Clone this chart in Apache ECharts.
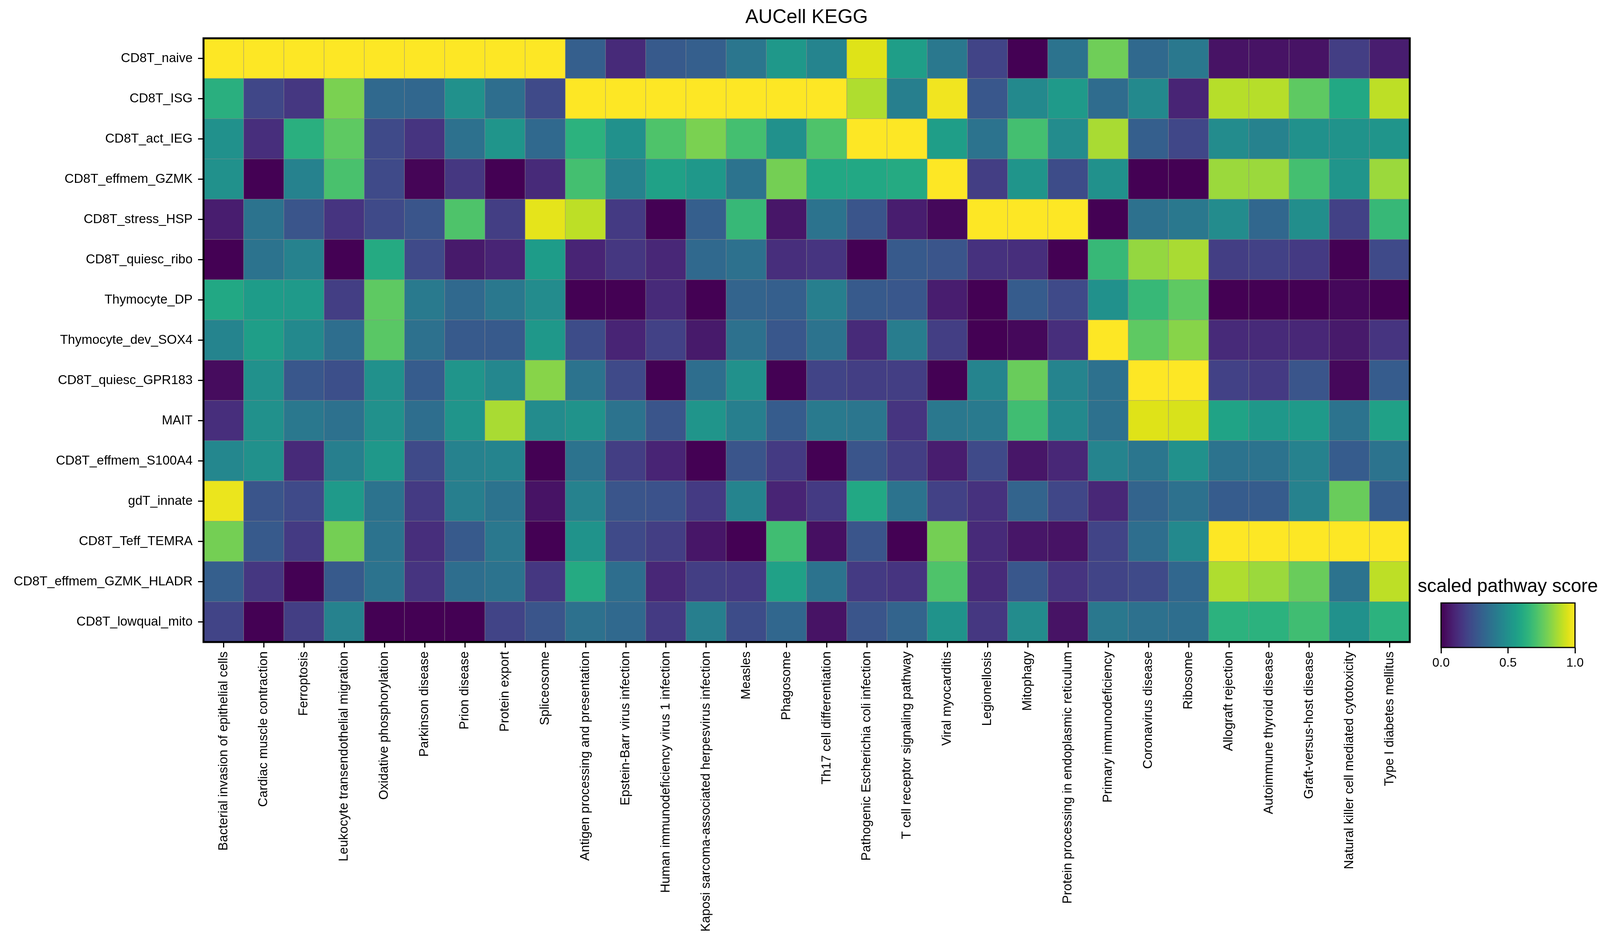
<!DOCTYPE html>
<html>
<head>
<meta charset="utf-8">
<script src="https://cdn.jsdelivr.net/npm/echarts@6/dist/echarts.min.js"></script>
<style>
html,body{margin:0;padding:0;background:#fff;}
#chart{width:4124px;height:2426px;}
</style>
</head>
<body>
<div id="chart"></div>
<script>
// ---------- DATA ----------
const pathways = [
  "Bacterial invasion of epithelial cells","Cardiac muscle contraction","Ferroptosis",
  "Leukocyte transendothelial migration","Oxidative phosphorylation","Parkinson disease",
  "Prion disease","Protein export","Spliceosome","Antigen processing and presentation",
  "Epstein-Barr virus infection","Human immunodeficiency virus 1 infection",
  "Kaposi sarcoma-associated herpesvirus infection","Measles","Phagosome",
  "Th17 cell differentiation","Pathogenic Escherichia coli infection",
  "T cell receptor signaling pathway","Viral myocarditis","Legionellosis","Mitophagy",
  "Protein processing in endoplasmic reticulum","Primary immunodeficiency",
  "Coronavirus disease","Ribosome","Allograft rejection","Autoimmune thyroid disease",
  "Graft-versus-host disease","Natural killer cell mediated cytotoxicity","Type I diabetes mellitus"
];
const cellTypes = [
  "CD8T_naive","CD8T_ISG","CD8T_act_IEG","CD8T_effmem_GZMK","CD8T_stress_HSP",
  "CD8T_quiesc_ribo","Thymocyte_DP","Thymocyte_dev_SOX4","CD8T_quiesc_GPR183","MAIT",
  "CD8T_effmem_S100A4","gdT_innate","CD8T_Teff_TEMRA","CD8T_effmem_GZMK_HLADR","CD8T_lowqual_mito"
];
const CD8T_naive = [1,1,1,1,1,1,1,1,1,0.30,0.12,0.28,0.30,0.39,0.53,0.45,0.95,0.56,0.40,0.20,0.0,0.38,0.78,0.34,0.40,0.05,0.05,0.05,0.18,0.08];
const CD8T_ISG = [0.63,0.21,0.16,0.80,0.34,0.33,0.50,0.36,0.22,1,1,1,1,1,1,1,0.88,0.43,0.98,0.27,0.47,0.54,0.35,0.47,0.10,0.89,0.89,0.75,0.60,0.90];
const CD8T_act_IEG = [0.50,0.13,0.63,0.75,0.22,0.15,0.37,0.52,0.34,0.64,0.50,0.72,0.80,0.70,0.50,0.72,1,1,0.56,0.38,0.70,0.48,0.87,0.30,0.21,0.48,0.44,0.50,0.51,0.52];
const CD8T_effmem_GZMK = [0.50,0.0,0.44,0.71,0.22,0.01,0.16,0.0,0.12,0.70,0.44,0.57,0.53,0.38,0.79,0.60,0.60,0.61,1,0.18,0.52,0.23,0.50,0.0,0.0,0.85,0.85,0.70,0.52,0.85];
const CD8T_stress_HSP = [0.08,0.38,0.26,0.15,0.22,0.26,0.72,0.18,0.96,0.90,0.17,0.0,0.30,0.67,0.06,0.38,0.26,0.08,0.02,1,1,1,0.0,0.37,0.40,0.48,0.33,0.49,0.19,0.67];
const CD8T_quiesc_ribo = [0.0,0.38,0.44,0.0,0.61,0.22,0.07,0.10,0.55,0.10,0.16,0.11,0.34,0.37,0.13,0.15,0.0,0.28,0.26,0.14,0.13,0.0,0.67,0.84,0.87,0.18,0.19,0.17,0.0,0.22];
const Thymocyte_DP = [0.60,0.55,0.54,0.18,0.75,0.41,0.34,0.40,0.48,0.0,0.0,0.12,0.0,0.32,0.30,0.43,0.28,0.27,0.08,0.0,0.29,0.22,0.50,0.67,0.75,0.0,0.0,0.0,0.02,0.0];
const Thymocyte_dev_SOX4 = [0.45,0.56,0.47,0.36,0.74,0.37,0.28,0.28,0.53,0.23,0.10,0.19,0.07,0.37,0.27,0.38,0.12,0.42,0.18,0.0,0.02,0.13,1,0.75,0.82,0.12,0.12,0.11,0.07,0.15];
const CD8T_quiesc_GPR183 = [0.03,0.50,0.27,0.24,0.50,0.29,0.52,0.46,0.82,0.38,0.22,0.0,0.36,0.50,0.0,0.20,0.18,0.18,0.0,0.45,0.77,0.45,0.37,1,1,0.19,0.17,0.26,0.02,0.29];
const MAIT = [0.13,0.50,0.40,0.37,0.50,0.36,0.52,0.87,0.48,0.51,0.38,0.26,0.52,0.43,0.29,0.41,0.39,0.15,0.40,0.41,0.69,0.47,0.37,0.95,0.94,0.58,0.53,0.54,0.38,0.57];
const CD8T_effmem_S100A4 = [0.46,0.50,0.12,0.43,0.53,0.22,0.44,0.45,0.0,0.38,0.18,0.10,0.0,0.26,0.17,0.0,0.26,0.18,0.08,0.22,0.06,0.11,0.45,0.39,0.50,0.38,0.38,0.44,0.29,0.38];
const gdT_innate = [0.97,0.26,0.22,0.54,0.38,0.17,0.43,0.38,0.05,0.44,0.26,0.25,0.17,0.45,0.10,0.17,0.60,0.38,0.19,0.14,0.32,0.21,0.11,0.32,0.37,0.29,0.29,0.44,0.77,0.29];
const CD8T_Teff_TEMRA = [0.79,0.28,0.17,0.79,0.38,0.13,0.28,0.40,0.0,0.51,0.22,0.18,0.06,0.0,0.69,0.04,0.26,0.0,0.79,0.12,0.06,0.05,0.20,0.36,0.47,1,1,1,1,1];
const CD8T_effmem_GZMK_HLADR = [0.30,0.16,0.0,0.28,0.38,0.15,0.36,0.38,0.16,0.61,0.36,0.11,0.18,0.17,0.57,0.38,0.17,0.15,0.72,0.12,0.27,0.15,0.20,0.22,0.33,0.88,0.85,0.77,0.38,0.90];
const CD8T_lowqual_mito = [0.20,0.0,0.18,0.44,0.0,0.0,0.0,0.20,0.26,0.37,0.34,0.17,0.43,0.23,0.33,0.05,0.26,0.32,0.51,0.16,0.48,0.05,0.40,0.37,0.36,0.64,0.64,0.69,0.50,0.64];
const colorbarTicks = [0, 0.5, 1];

const rows = [CD8T_naive, CD8T_ISG, CD8T_act_IEG, CD8T_effmem_GZMK, CD8T_stress_HSP,
  CD8T_quiesc_ribo, Thymocyte_DP, Thymocyte_dev_SOX4, CD8T_quiesc_GPR183, MAIT,
  CD8T_effmem_S100A4, gdT_innate, CD8T_Teff_TEMRA, CD8T_effmem_GZMK_HLADR, CD8T_lowqual_mito];

const viridis = ['#440154','#471365','#482475','#463480','#414487','#3b528b','#355f8d',
  '#2f6c8e','#2a788e','#25848e','#21918c','#1e9c89','#22a884','#2fb47c','#44bf70',
  '#5ec962','#7ad151','#9bd93c','#bddf26','#dfe318','#fde725'];

const heatData = [];
rows.forEach((r, i) => r.forEach((v, j) => heatData.push([j, i, v])));

const FONT = '"Liberation Sans", Arial, Helvetica, sans-serif';

const chart = echarts.init(document.getElementById('chart'), null, {renderer: 'canvas'});
chart.setOption({
  animation: false,
  backgroundColor: '#fff',
  textStyle: {fontFamily: FONT, color: '#000'},
  title: [
    {text: 'AUCell KEGG', left: 2065, top: 20, textAlign: 'center', padding: 0,
     textStyle: {fontFamily: FONT, fontSize: 50, fontWeight: 'normal', color: '#000'}},
    {text: 'scaled pathway score', left: 3860, top: 1478, textAlign: 'center', padding: 0,
     textStyle: {fontFamily: FONT, fontSize: 48, fontWeight: 'normal', color: '#000'}}
  ],
  grid: [
    {left: 521, top: 98, width: 3088, height: 1545, show: true, borderColor: '#000',
     borderWidth: 5, backgroundColor: 'transparent', z: 10},
    {left: 3689, top: 1543, width: 343, height: 114, show: true, borderColor: '#000',
     borderWidth: 3, backgroundColor: 'transparent', z: 10}
  ],
  xAxis: [
    {type: 'category', data: pathways, gridIndex: 0, position: 'bottom',
     axisLine: {show: false},
     axisTick: {show: true, alignWithLabel: true, length: 14, lineStyle: {color: '#000', width: 3}},
     axisLabel: {rotate: 90, interval: 0, fontSize: 33, margin: 24, color: '#000', fontFamily: FONT},
     splitLine: {show: false}},
    {type: 'value', gridIndex: 1, min: 0, max: 1, interval: 0.5, position: 'bottom',
     axisLine: {show: false},
     axisTick: {show: true, length: 15, lineStyle: {color: '#000', width: 3}},
     axisLabel: {fontSize: 32, margin: 24, color: '#000', fontFamily: FONT,
       formatter: v => colorbarTicks.indexOf(v) >= 0 ? v.toFixed(1) : ''},
     splitLine: {show: false}}
  ],
  yAxis: [
    {type: 'category', data: cellTypes, gridIndex: 0, inverse: true,
     axisLine: {show: false},
     axisTick: {show: true, alignWithLabel: true, length: 14, lineStyle: {color: '#000', width: 3}},
     axisLabel: {fontSize: 33, margin: 28, color: '#000', fontFamily: FONT},
     splitLine: {show: false}},
    {type: 'value', gridIndex: 1, show: false, min: 0, max: 1}
  ],
  visualMap: {
    type: 'continuous', min: 0, max: 1, seriesIndex: 0, dimension: 2,
    orient: 'horizontal', left: 3689, top: 1543, itemWidth: 114, itemHeight: 343,
    padding: 0, calculable: false, hoverLink: false, showLabel: false,
    inRange: {color: viridis}
  },
  series: [{
    type: 'heatmap', xAxisIndex: 0, yAxisIndex: 0, data: heatData,
    itemStyle: {borderColor: 'rgba(140,140,140,0.75)', borderWidth: 1.2},
    emphasis: {disabled: true}
  }]
});
</script>
</body>
</html>
